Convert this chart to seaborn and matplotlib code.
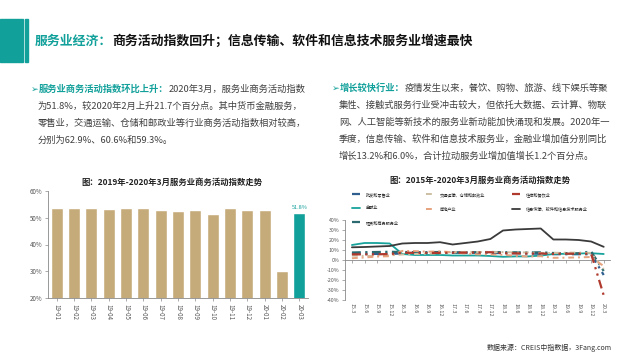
import pandas as pd
import seaborn as sns
import matplotlib.pyplot as plt
from matplotlib.patches import Rectangle

sns.set_style('white')
plt.rcParams['font.family'] = ['Noto Sans CJK SC', 'DejaVu Sans']
plt.rcParams['axes.unicode_minus'] = False

TEAL = '#12A09A'
TAN = '#C6AB7A'
GREY = '#404040'

# left chart: monthly service business activity index (%)
months = ['19-01', '19-02', '19-03', '19-04', '19-05', '19-06', '19-07', '19-08',
          '19-09', '19-10', '19-11', '19-12', '20-01', '20-02', '20-03']
index_vals = [53.6, 53.5, 53.6, 53.2, 53.5, 53.5, 52.8, 52.5, 53.0, 51.4, 53.5, 53.0, 53.0, 30.1, 51.8]

# right chart: quarterly growth by industry (%)
quarters = ['15.3', '15.6', '15.9', '15.12', '16.3', '16.6', '16.9', '16.12', '17.3', '17.6', '17.9',
            '17.12', '18.3', '18.6', '18.9', '18.12', '19.3', '19.6', '19.9', '19.12', '20.3']
wholesale = [6.1, 6.1, 6.1, 6.1, 6.5, 6.6, 6.8, 7.1, 7.4, 7.3, 7.2, 7.1, 6.8, 6.8, 6.5, 6.2, 5.8, 5.8, 5.8, 5.7, -15.0]
transport = [4.4, 4.1, 4.0, 4.6, 5.5, 6.0, 6.3, 6.6, 8.0, 8.1, 8.0, 8.0, 7.9, 7.5, 7.6, 7.1, 7.0, 7.3, 7.4, 7.1, -9.0]
catering = [5.7, 5.6, 5.7, 6.0, 7.2, 7.2, 7.1, 7.1, 7.3, 7.4, 7.5, 7.8, 6.8, 6.6, 6.4, 6.5, 6.1, 6.3, 6.3, 6.3, -35.3]
finance = [15.0, 17.0, 17.0, 16.5, 6.0, 5.0, 5.0, 5.0, 4.5, 4.5, 4.5, 4.0, 3.2, 3.6, 3.6, 4.4, 6.0, 6.2, 6.5, 6.8, 6.0]
realestate = [1.8, 2.5, 3.4, 3.8, 9.1, 8.9, 8.3, 8.6, 7.8, 6.5, 5.6, 5.6, 5.2, 4.2, 3.4, 3.8, 2.2, 2.3, 2.6, 3.0, -6.1]
infotech = [12.7, 13.0, 13.5, 14.0, 16.5, 17.0, 17.0, 17.8, 15.5, 17.0, 18.5, 21.0, 29.5, 30.5, 31.0, 31.5,
            20.5, 20.5, 20.0, 18.5, 13.2]
leasing = [7.5, 7.8, 8.0, 8.2, 8.0, 7.8, 7.8, 8.0, 7.5, 7.7, 7.8, 8.0, 7.8, 7.7, 7.6, 7.7, 7.0, 6.8, 6.7, 8.6, -11.0]

series = [
    ('批发和零售业', wholesale, '#2F5F8F', (0, (4, 2, 1, 2)), 1.6),
    ('金融业', finance, '#17A39B', '-', 1.3),
    ('租赁和商务服务业', leasing, '#2B6B70', (0, (4, 2, 1, 2)), 1.6),
    ('交通运输、仓储和邮政业', transport, '#CDBFA2', (0, (3, 2, 1, 2)), 1.4),
    ('房地产业', realestate, '#E7A27E', (0, (3, 2, 1, 2)), 1.4),
    ('住宿和餐饮业', catering, '#B03A2E', (0, (4, 2, 1, 2, 1, 2)), 1.6),
    ('信息传输、软件和信息技术服务业', infotech, '#3A3A3A', '-', 1.3),
]

W, H = 640, 360
fig = plt.figure(figsize=(6.4, 3.6), dpi=100)
fig.patch.set_facecolor('white')


def fx(x):
    return x / W


def fy(y):
    return 1 - y / H


def rich_line(x, y, parts, size):
    r = fig.canvas.get_renderer()
    for s, color, weight in parts:
        t = fig.text(fx(x), fy(y), s, color=color, fontsize=size, fontweight=weight,
                     ha='left', va='center')
        x += t.get_window_extent(renderer=r).width


# header block
fig.patches.append(Rectangle((0, fy(62)), fx(23), 43 / H, transform=fig.transFigure, color=TEAL))
fig.patches.append(Rectangle((fx(25), fy(62)), fx(3), 43 / H, transform=fig.transFigure, color=TEAL))
rich_line(35, 41, [('服务业经济：', TEAL, 'bold'),
                   ('商务活动指数回升；信息传输、软件和信息技术服务业增速最快', '#111111', 'bold')], 9.3)

# text blocks
fs = 6.7
rich_line(31, 89, [('➢', TEAL, 'normal'), ('服务业商务活动指数环比上升：', TEAL, 'bold'),
                   ('2020年3月，服务业商务活动指数', GREY, 'normal')], fs)
left_lines = ['为51.8%，较2020年2月上升21.7个百分点。其中货币金融服务，',
              '零售业，交通运输、仓储和邮政业等行业商务活动指数相对较高，',
              '分别为62.9%、60.6%和59.3%。']
for i, s in enumerate(left_lines):
    rich_line(38, 106 + 17 * i, [(s, GREY, 'normal')], fs)

rich_line(332, 88, [('➢', TEAL, 'normal'), ('增长较快行业：', TEAL, 'bold'),
                    ('疫情发生以来，餐饮、购物、旅游、线下娱乐等聚', GREY, 'normal')], fs)
right_lines = ['集性、接触式服务行业受冲击较大，但依托大数据、云计算、物联',
               '网、人工智能等新技术的服务业新动能加快涌现和发展。2020年一',
               '季度，信息传输、软件和信息技术服务业，金融业增加值分别同比',
               '增长13.2%和6.0%，合计拉动服务业增加值增长1.2个百分点。']
for i, s in enumerate(right_lines):
    rich_line(339, 105 + 17 * i, [(s, GREY, 'normal')], fs)

# left bar chart
fig.text(fx(172), fy(182), '图：2019年-2020年3月服务业商务活动指数走势', ha='center', va='center',
         fontsize=6, fontweight='bold', color='#222222')
ax1 = fig.add_axes([fx(48), fy(298), fx(308 - 48), (298 - 191) / H])
colors = [TAN] * (len(months) - 1) + [TEAL]
sns.barplot(x=months, y=index_vals, hue=months, palette=colors, legend=False, width=0.68,
            saturation=1, ax=ax1)
ax1.set_ylim(20, 60)
ax1.set_yticks(range(20, 61, 10))
ax1.set_yticklabels([f'{v}%' for v in range(20, 61, 10)], fontsize=4.5, color='#555555')
ax1.set_xticks(range(len(months)))
ax1.set_xticklabels(months, rotation=-90, fontsize=4.5, color='#555555')
ax1.tick_params(axis='both', length=2, width=0.5, color='#888888', pad=2, left=True, bottom=True)
for side in ['top', 'right']:
    ax1.spines[side].set_visible(False)
for side in ['left', 'bottom']:
    ax1.spines[side].set_color('#888888')
    ax1.spines[side].set_linewidth(0.6)
ax1.text(len(months) - 1, index_vals[-1] + 1.2, f'{index_vals[-1]}%', ha='center', va='bottom',
         fontsize=4, color=TEAL)

# right line chart
fig.text(fx(480), fy(180), '图：2015年-2020年3月服务业商务活动指数走势', ha='center', va='center',
         fontsize=6, fontweight='bold', color='#222222')
ax2 = fig.add_axes([fx(345), fy(300), fx(610 - 345), 80 / H])
for name, vals, color, ls, lw in series:
    sns.lineplot(x=list(range(len(quarters))), y=vals, color=color, linestyle=ls, linewidth=lw,
                 label=name, ax=ax2)
ax2.set_xlim(-0.55, 20.5)
ax2.set_ylim(-40, 40)
ax2.set_yticks(range(-40, 41, 10))
ax2.set_yticklabels([f'{v}%' for v in range(-40, 41, 10)], fontsize=3.8, color='#555555')
ax2.set_xticks(range(len(quarters)))
ax2.set_xticklabels(quarters, rotation=-90, fontsize=3.8, color='#555555')
ax2.tick_params(axis='x', length=0, pad=2)
ax2.tick_params(axis='y', length=2, width=0.5, color='#888888', pad=2, left=True)
for side in ['top', 'right', 'bottom']:
    ax2.spines[side].set_visible(False)
ax2.spines['left'].set_color('#888888')
ax2.spines['left'].set_linewidth(0.6)
zero = ax2.secondary_xaxis(0.5)
zero.set_xticks(range(len(quarters)))
zero.set_xticklabels([])
zero.tick_params(length=2, width=0.5, color='#888888', direction='in')
zero.spines['bottom'].set_color('#888888')
zero.spines['bottom'].set_linewidth(0.6)
zero.spines['top'].set_color('#888888')
zero.spines['top'].set_linewidth(0.6)

handles, labels = ax2.get_legend_handles_labels()
ax2.legend(handles, labels, ncol=3, loc='upper left', bbox_to_anchor=(fx(352), fy(192)),
           bbox_transform=fig.transFigure, frameon=False, fontsize=3, handlelength=1.8,
           handletextpad=1.5, columnspacing=6.5, labelspacing=2.3, borderpad=0, borderaxespad=0)

fig.text(fx(612), fy(348), '数据来源：CREIS中指数据，3Fang.com', ha='right', va='center',
         fontsize=5, color='#333333')

fig.savefig('out.png', dpi=100, facecolor='white')
